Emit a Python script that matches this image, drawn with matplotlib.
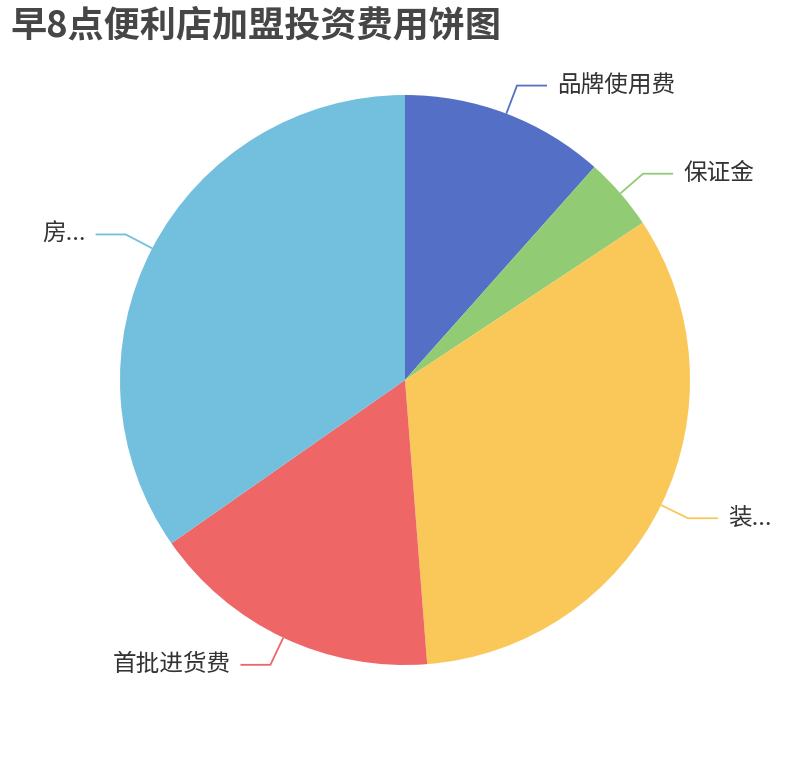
import numpy as np
import matplotlib
matplotlib.use("Agg")
import matplotlib.pyplot as plt

plt.rcParams['font.family'] = ['Noto Sans CJK SC', 'DejaVu Sans']

# investment items (clockwise from 12 o'clock), shown labels as in the chart
labels = ['品牌使用费', '保证金', '装...', '首批进货费', '房...']
values = [2.8, 1.0, 8.0, 4.0, 8.4]
colors = ['#5470c6', '#91cc75', '#fac858', '#ee6666', '#73c0de']

W, H = 810, 760
cx, cy, r = 405, 380, 285

fig = plt.figure(figsize=(W / 100, H / 100), dpi=100)
ax = fig.add_axes([0, 0, 1, 1])

wedges, _ = ax.pie(values, colors=colors, startangle=90, counterclock=False,
                   center=(cx, cy), radius=r,
                   wedgeprops=dict(linewidth=0))
ax.set_xlim(0, W)
ax.set_ylim(0, H)
ax.set_aspect('equal')
ax.axis('off')

# label lines: radial segment then a horizontal one
len1, len2, gap = 30, 30, 10
for w, lab, col in zip(wedges, labels, colors):
    mid = np.deg2rad((w.theta1 + w.theta2) / 2)
    c, s = np.cos(mid), np.sin(mid)
    x0, y0 = cx + r * c, cy + r * s
    x1, y1 = cx + (r + len1) * c, cy + (r + len1) * s
    side = 1 if c >= 0 else -1
    x2 = x1 + side * len2
    ax.plot([x0, x1, x2], [y0, y1, y1], color=col, lw=1.3,
            solid_capstyle='butt', solid_joinstyle='miter')
    ax.text(x2 + side * gap, y1, lab, fontsize=17, color='#333333',
            ha='left' if side > 0 else 'right', va='center')

fig.text(10 / W, 1 - 26 / H, '早8点便利店加盟投资费用饼图', fontsize=26,
         fontweight='bold', color='#464646', ha='left', va='center')

fig.savefig('out.png', dpi=100)
